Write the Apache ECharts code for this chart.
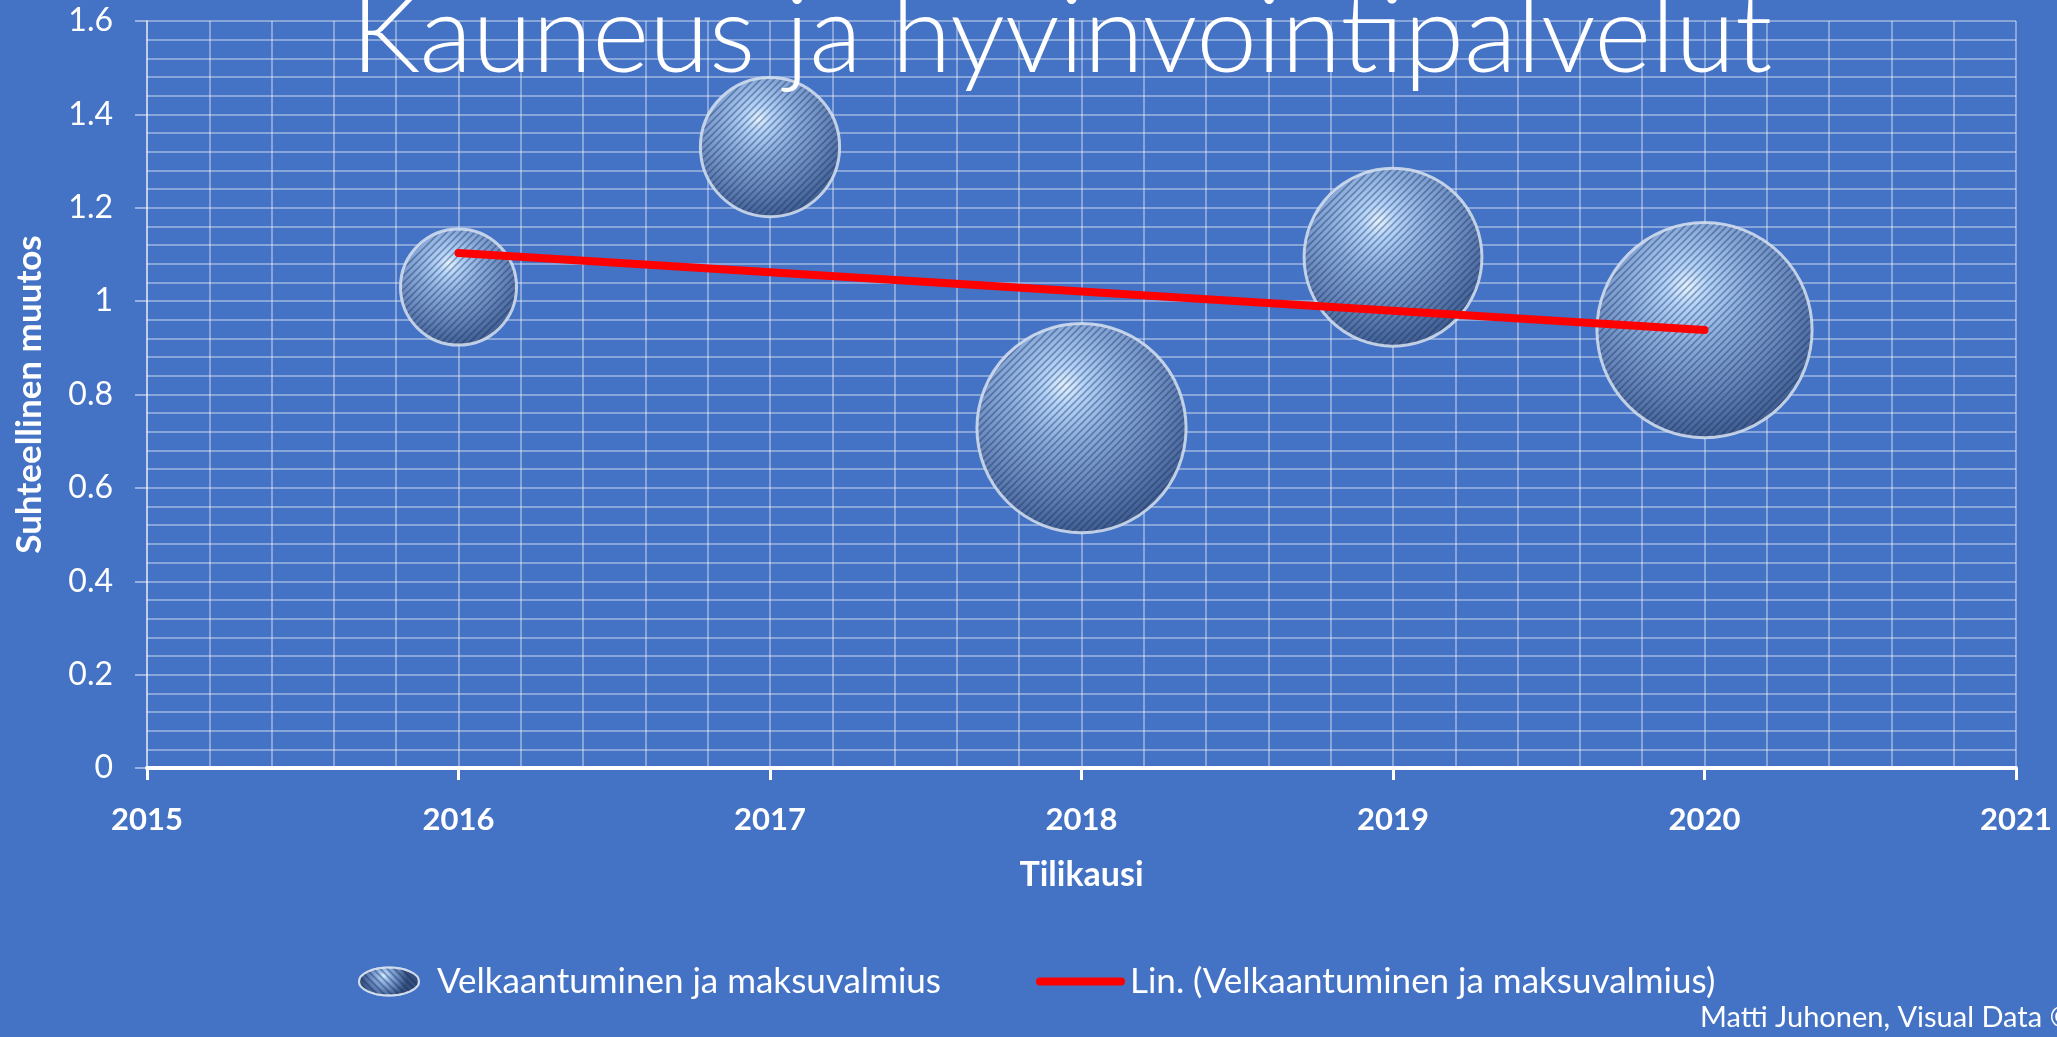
<!DOCTYPE html>
<html>
<head>
<meta charset="utf-8">
<script src="https://cdn.jsdelivr.net/npm/echarts@6/dist/echarts.min.js"></script>
<style>
  html, body { margin: 0; padding: 0; background: #4472c4; }
  #chart { width: 2057px; height: 1037px; }
</style>
</head>
<body>
<div id="chart"></div>
<script>
// data
const years = [2016, 2017, 2018, 2019, 2020];
const relChange = [1.03, 1.33, 0.728, 1.094, 0.938];
const bubbleSize = [1.0, 1.44, 3.25, 2.35, 3.44];
const trendYears = [2016, 2020];
const trendValues = [1.103, 0.938];

const seriesName = "Velkaantuminen ja maksuvalmius";
const trendName = "Lin. (Velkaantuminen ja maksuvalmius)";
const font = "Lato, 'Open Sans', sans-serif";
const grid = "rgba(255,255,255,0.36)";

const chart = echarts.init(document.getElementById("chart"));

const bubbleFill = {
  type: "radial", x: 0.42, y: 0.3, r: 0.78,
  colorStops: [
    { offset: 0, color: "#e2f2ff" },
    { offset: 0.12, color: "#b3d3fa" },
    { offset: 0.35, color: "#88aadb" },
    { offset: 0.62, color: "#6686bb" },
    { offset: 0.84, color: "#46659a" },
    { offset: 1, color: "#344f7d" },
  ],
};

// diagonal stripe texture for the bubbles
const stripeTile = (() => {
  const s = 7;
  const c = document.createElement("canvas");
  c.width = s;
  c.height = s;
  const g = c.getContext("2d");
  g.strokeStyle = "rgba(22,40,78,0.38)";
  g.lineWidth = 1.6;
  g.beginPath();
  for (const k of [0, s, 2 * s]) {
    g.moveTo(k - s - 2, s + 2);
    g.lineTo(k + 2, -2);
  }
  g.stroke();
  return c;
})();
const stripeFill = { image: stripeTile, repeat: "repeat" };

const renderBubble = (params, api) => {
  const c = api.coord([api.value(0), api.value(1)]);
  const r = (116 * Math.sqrt(api.value(2))) / 2;
  return {
    type: "group",
    children: [
      {
        type: "circle",
        shape: { cx: c[0], cy: c[1], r: r },
        style: { fill: bubbleFill, stroke: "rgba(214,224,238,0.85)", lineWidth: 3 },
      },
      {
        type: "circle",
        shape: { cx: c[0], cy: c[1], r: r - 1.5 },
        style: { fill: stripeFill },
      },
    ],
  };
};

const option = {
  backgroundColor: "#4472c4",
  animation: false,
  textStyle: { fontFamily: font },
  title: {
    text: "Kauneus ja hyvinvointipalvelut",
    left: 346,
    top: -23,
    textStyle: { color: "#fff", fontFamily: font, fontWeight: 300, fontSize: 109 },
  },
  grid: { left: 147, right: 41, top: 21, bottom: 269 },
  xAxis: {
    type: "value",
    min: 2015, max: 2021, interval: 1,
    name: "Tilikausi",
    nameLocation: "middle",
    nameGap: 90,
    nameTextStyle: { color: "#fff", fontWeight: "bold", fontSize: 34 },
    axisLine: { lineStyle: { color: "#fff", width: 4 } },
    axisTick: { length: 12, lineStyle: { color: "#fff", width: 3 } },
    axisLabel: {
      color: "#fff", fontWeight: "bold", fontSize: 31, margin: 36,
      formatter: (v) => String(v),
    },
    splitLine: { show: true, lineStyle: { color: grid, width: 2 } },
    minorTick: { show: false, splitNumber: 5 },
    minorSplitLine: { show: true, lineStyle: { color: grid, width: 2 } },
  },
  yAxis: {
    type: "value",
    min: 0, max: 1.6, interval: 0.2,
    name: "Suhteellinen muutos",
    nameLocation: "middle",
    nameRotate: 90,
    nameGap: 100,
    nameTextStyle: { color: "#fff", fontWeight: "bold", fontSize: 35 },
    axisLine: { show: true, lineStyle: { color: "rgba(255,255,255,0.45)", width: 2 } },
    axisTick: { show: true, length: 12, lineStyle: { color: "rgba(255,255,255,0.45)", width: 2 } },
    axisLabel: { color: "#fff", fontSize: 32, margin: 34 },
    splitLine: { show: true, lineStyle: { color: grid, width: 2 } },
    minorTick: { show: false, splitNumber: 5 },
    minorSplitLine: { show: true, lineStyle: { color: grid, width: 2 } },
  },
  legend: [
    {
      data: [{ name: seriesName, icon: "path://M0,14A30,14,0,1,1,60,14A30,14,0,1,1,0,14Z" }],
      left: 353, top: 959,
      itemWidth: 60, itemHeight: 28,
      textStyle: { color: "#fff", fontSize: 35, padding: [0, 0, 0, 13] },
    },
    {
      data: [{ name: trendName, icon: "path://M4,0H85A4,4,0,0,1,85,8H4A4,4,0,0,1,4,0Z" }],
      left: 1031, top: 959,
      itemWidth: 89, itemHeight: 28,
      textStyle: { color: "#fff", fontSize: 35 },
    },
  ],
  graphic: [
    {
      type: "text", left: 1700, top: 1003,
      style: { text: "Matti Juhonen, Visual Data ©", fill: "#fff", font: "29px " + font },
    },
  ],
  series: [
    {
      name: seriesName,
      type: "custom",
      data: years.map((y, i) => [y, relChange[i], bubbleSize[i]]),
      renderItem: renderBubble,
      itemStyle: {
        color: bubbleFill,
        borderColor: "rgba(214,224,238,0.85)",
        borderWidth: 2,
        decal: {
          symbol: "rect",
          symbolSize: 1,
          color: "rgba(22,40,78,0.38)",
          dashArrayX: [1, 0],
          dashArrayY: [2, 3],
          rotation: Math.PI / 4,
        },
      },
      z: 2,
    },
    {
      name: trendName,
      type: "line",
      data: trendYears.map((y, i) => [y, trendValues[i]]),
      symbol: "none",
      lineStyle: { color: "#ff0000", width: 8, cap: "round" },
      itemStyle: { color: "#ff0000" },
      z: 3,
    },
  ],
};

chart.setOption(option);
</script>
</body>
</html>
